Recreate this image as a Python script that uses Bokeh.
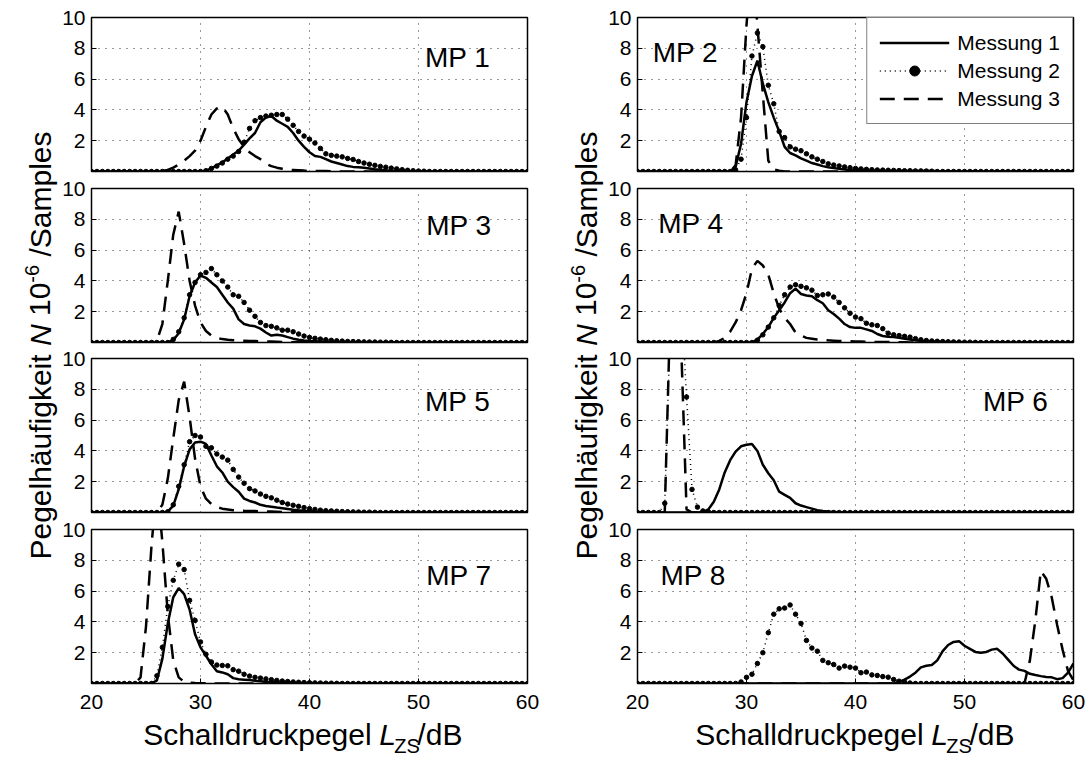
from bokeh.plotting import figure
from bokeh.models import Range1d, FixedTicker, Label, Legend, LegendItem
from bokeh.layouts import row, column
from bokeh.embed import file_html
from bokeh.resources import INLINE

# ---------------- data ----------------
X_MIN, X_MAX, X_STEP = 20.0, 60.0, 0.5
X_TICKS = [20, 30, 40, 50, 60]
Y_TICKS = [2, 4, 6, 8, 10]
SERIES_NAMES = ["Messung 1", "Messung 2", "Messung 3"]
PANEL_NAMES = ["MP 1", "MP 2", "MP 3", "MP 4", "MP 5", "MP 6", "MP 7", "MP 8"]

# each series: first level (dB) of the list, then values every 0.5 dB (10^6 samples)
MP1_M1_START = 30.0
MP1_M1 = [0, 0.05, 0.2, 0.4, 0.6, 0.85, 1.1, 1.35, 1.75, 2.15, 2.5, 3.2, 3.5, 3.6, 3.3, 3.1, 2.9, 2.5,
          2.0, 1.6, 1.25, 1.0, 0.95, 0.8, 0.65, 0.55, 0.45, 0.35, 0.3, 0.28, 0.25, 0.2, 0.15, 0.12,
          0.08, 0.05, 0.03, 0.02, 0]
MP1_M2_START = 30.0
MP1_M2 = [0, 0.05, 0.2, 0.35, 0.55, 0.8, 1.0, 1.3, 1.9, 2.8, 3.3, 3.5, 3.6, 3.65, 3.7, 3.7, 3.4, 3.0,
          2.6, 2.3, 2.1, 1.85, 1.5, 1.15, 1.05, 1.0, 0.95, 0.85, 0.78, 0.65, 0.55, 0.47, 0.4, 0.33,
          0.28, 0.22, 0.17, 0.12, 0.08, 0.05, 0.03, 0.02, 0]
MP1_M3_START = 26.0
MP1_M3 = [0, 0.03, 0.1, 0.25, 0.45, 0.7, 1.0, 1.35, 2.0, 2.9, 3.7, 4.1, 4.2, 3.7, 2.8, 2.1, 1.6, 1.25,
          1.0, 0.8, 0.5, 0.35, 0.25, 0.18, 0.12, 0.1, 0.08, 0.06, 0.05, 0.04, 0.03, 0.03, 0.02, 0]

MP2_M1_START = 28.5
MP2_M1 = [0, 0.3, 1.8, 4.5, 6.2, 7.2, 5.7, 4.5, 3.5, 2.6, 1.6, 1.2, 1.05, 0.85, 0.7, 0.55, 0.45, 0.35,
          0.28, 0.22, 0.17, 0.13, 0.1, 0.09, 0.08, 0.07, 0.06, 0.05, 0.05, 0.04, 0.04, 0.03, 0.03,
          0.03, 0.03, 0.04, 0.05, 0.04, 0.02, 0]
MP2_M2_START = 28.5
MP2_M2 = [0, 0.1, 0.8, 3.5, 7.5, 9.0, 8.1, 5.6, 4.4, 2.6, 2.2, 1.6, 1.45, 1.35, 1.15, 0.95, 0.8, 0.65,
          0.5, 0.42, 0.36, 0.3, 0.25, 0.2, 0.17, 0.14, 0.12, 0.1, 0.09, 0.08, 0.07, 0.06, 0.05, 0.05,
          0.04, 0.04, 0.03, 0.02, 0]
MP2_M3_START = 28.5
MP2_M3 = [0, 0.4, 3.5, 9.5, 14.0, 9.5, 5.0, 0.7, 0.15, 0.05, 0]

MP3_M1_START = 27.0
MP3_M1 = [0, 0.15, 0.6, 1.5, 3.0, 3.9, 4.35, 4.2, 3.9, 3.6, 3.1, 2.6, 2.2, 1.5, 1.2, 1.1, 1.05, 0.9,
          0.65, 0.45, 0.5, 0.45, 0.35, 0.25, 0.18, 0.13, 0.1, 0.08, 0.06, 0.05, 0.04, 0.03, 0.03,
          0.02, 0.02, 0.02, 0.02, 0.01, 0]
MP3_M2_START = 27.0
MP3_M2 = [0, 0.2, 0.7, 1.6, 3.1, 3.9, 4.4, 4.55, 4.8, 4.4, 4.0, 3.6, 3.1, 3.0, 2.6, 2.1, 1.7, 1.3,
          1.1, 1.05, 0.95, 0.8, 0.8, 0.7, 0.55, 0.42, 0.33, 0.27, 0.22, 0.18, 0.14, 0.11, 0.09,
          0.07, 0.06, 0.05, 0.04, 0.03, 0.03, 0.02, 0.02, 0.01, 0]
MP3_M3_START = 25.5
MP3_M3 = [0, 0.1, 1.2, 4.0, 7.0, 8.5, 6.4, 4.0, 2.4, 1.3, 0.75, 0.45, 0.3, 0.22, 0.18, 0.15, 0.13,
          0.12, 0.1, 0.09, 0.08, 0.07, 0.06, 0.05, 0.04, 0.03, 0.02, 0.02, 0.01, 0]

MP4_M1_START = 30.5
MP4_M1 = [0, 0.2, 0.55, 1.0, 1.6, 2.1, 2.6, 3.2, 3.5, 3.15, 3.05, 3.0, 2.75, 2.55, 2.1, 1.85, 1.55,
          1.2, 1.0, 0.95, 0.95, 0.85, 0.75, 0.55, 0.42, 0.38, 0.35, 0.3, 0.25, 0.2, 0.15, 0.1, 0.08,
          0.06, 0.05, 0.04, 0.03, 0.02, 0.02, 0.01, 0]
MP4_M2_START = 30.5
MP4_M2 = [0, 0.15, 0.5, 1.0, 1.6, 2.4, 3.1, 3.6, 3.75, 3.65, 3.55, 3.4, 3.05, 3.1, 3.15, 2.95, 2.6,
          2.25, 1.9, 1.65, 1.55, 1.25, 1.15, 1.1, 0.9, 0.6, 0.5, 0.45, 0.4, 0.35, 0.25, 0.18, 0.13,
          0.1, 0.08, 0.06, 0.05, 0.04, 0.03, 0.02, 0.02, 0.01, 0]
MP4_M3_START = 27.0
MP4_M3 = [0, 0.1, 0.3, 0.7, 1.3, 2.1, 3.2, 4.8, 5.3, 5.0, 4.4, 3.2, 2.2, 1.6, 1.2, 0.65, 0.45, 0.3,
          0.25, 0.2, 0.17, 0.14, 0.12, 0.1, 0.09, 0.08, 0.07, 0.06, 0.05, 0.04, 0.04, 0.03, 0.03,
          0.02, 0.02, 0.01, 0]

MP5_M1_START = 26.5
MP5_M1 = [0, 0.05, 0.45, 1.5, 3.0, 4.1, 4.55, 4.6, 4.45, 3.7, 3.0, 2.6, 2.0, 1.65, 1.35, 0.9, 0.75,
          0.65, 0.5, 0.42, 0.37, 0.32, 0.28, 0.23, 0.18, 0.14, 0.11, 0.09, 0.07, 0.05, 0.04, 0.03,
          0.02, 0.02, 0.01, 0]
MP5_M2_START = 26.5
MP5_M2 = [0, 0.05, 0.5, 1.7, 3.1, 4.6, 5.0, 4.9, 4.3, 4.2, 3.8, 3.6, 3.4, 2.8, 2.3, 1.9, 1.55, 1.4,
          1.2, 1.05, 0.95, 0.8, 0.65, 0.55, 0.47, 0.4, 0.32, 0.25, 0.2, 0.15, 0.12, 0.1, 0.08, 0.06,
          0.05, 0.04, 0.03, 0.02, 0.02, 0.01, 0]
MP5_M3_START = 26.0
MP5_M3 = [0, 0.5, 2.2, 4.8, 7.3, 8.5, 6.2, 3.5, 1.7, 0.9, 0.55, 0.35, 0.25, 0.2, 0.15, 0.13, 0.11,
          0.1, 0.09, 0.08, 0.07, 0.06, 0.05, 0.04, 0.03, 0.03, 0.02, 0.02, 0.01, 0]

MP6_M1_START = 25.5
MP6_M1 = [0, 0.03, 0.2, 0.7, 1.5, 2.6, 3.4, 3.95, 4.3, 4.4, 4.45, 4.0, 3.1, 2.55, 2.1, 1.35, 1.15,
          0.95, 0.6, 0.45, 0.35, 0.25, 0.15, 0.1, 0.06, 0.04, 0.02, 0.01, 0]
MP6_M2_START = 22.0
MP6_M2 = [0, 0.6, 12.0, 18.0, 14.0, 7.5, 1.5, 0.35, 0.1, 0.05, 0]
MP6_M3_START = 22.5
MP6_M3 = [0, 13.0, 18.0, 11.0, 0.2, 0]

MP7_M1_START = 25.5
MP7_M1 = [0, 0.2, 1.6, 3.9, 5.6, 6.2, 5.8, 4.8, 3.2, 2.35, 1.8, 1.25, 0.8, 0.72, 0.6, 0.35, 0.28,
          0.25, 0.22, 0.18, 0.15, 0.12, 0.1, 0.08, 0.07, 0.06, 0.05, 0.04, 0.03, 0.03, 0.02, 0.02,
          0.01, 0]
MP7_M2_START = 25.5
MP7_M2 = [0, 0.5, 2.35, 5.0, 6.7, 7.75, 7.4, 5.4, 4.1, 2.7, 1.9, 1.4, 1.2, 1.17, 1.15, 0.9, 0.8,
          0.6, 0.48, 0.4, 0.35, 0.3, 0.25, 0.2, 0.16, 0.13, 0.1, 0.08, 0.06, 0.05, 0.04, 0.03, 0.02,
          0.02, 0.01, 0]
MP7_M3_START = 24.0
MP7_M3 = [0, 0.4, 3.7, 8.9, 13.0, 9.2, 4.5, 1.5, 0.4, 0.1, 0.05, 0.03, 0.02, 0.01, 0]

MP8_M1_START = 43.5
MP8_M1 = [0, 0.1, 0.25, 0.45, 0.7, 1.05, 1.15, 1.2, 1.5, 2.1, 2.5, 2.7, 2.75, 2.45, 2.25, 2.05, 2.0,
          2.05, 2.2, 2.25, 1.95, 1.55, 1.15, 0.9, 0.82, 0.63, 0.55, 0.48, 0.42, 0.4, 0.28, 0.35,
          0.7, 1.3]
MP8_M2_START = 29.0
MP8_M2 = [0, 0.1, 0.4, 0.6, 1.3, 2.0, 3.3, 4.5, 4.85, 4.9, 5.1, 4.5, 3.9, 2.8, 2.3, 2.1, 1.5, 1.35,
          1.23, 1.0, 1.13, 1.06, 1.0, 0.7, 0.74, 0.56, 0.52, 0.45, 0.41, 0.26, 0.15, 0.1, 0.03, 0]
MP8_M3_START = 55.5
MP8_M3 = [0, 1.5, 4.1, 7.3, 6.8, 5.6, 3.8, 2.2, 0.8, 0.2]

PANELS = [
    [(MP1_M1_START, MP1_M1), (MP1_M2_START, MP1_M2), (MP1_M3_START, MP1_M3)],
    [(MP2_M1_START, MP2_M1), (MP2_M2_START, MP2_M2), (MP2_M3_START, MP2_M3)],
    [(MP3_M1_START, MP3_M1), (MP3_M2_START, MP3_M2), (MP3_M3_START, MP3_M3)],
    [(MP4_M1_START, MP4_M1), (MP4_M2_START, MP4_M2), (MP4_M3_START, MP4_M3)],
    [(MP5_M1_START, MP5_M1), (MP5_M2_START, MP5_M2), (MP5_M3_START, MP5_M3)],
    [(MP6_M1_START, MP6_M1), (MP6_M2_START, MP6_M2), (MP6_M3_START, MP6_M3)],
    [(MP7_M1_START, MP7_M1), (MP7_M2_START, MP7_M2), (MP7_M3_START, MP7_M3)],
    [(MP8_M1_START, MP8_M1), (MP8_M2_START, MP8_M2), (MP8_M3_START, MP8_M3)],
]

# ---------------- layout / style ----------------
FONT = "Liberation Sans"
FW, FH = 436, 154
LAB_W_L, LAB_W_R = 59, 64
BORDER_L = 32
BORDER_R = [14, 13]
ROW_TOP = [17, 14, 13, 14]
ROW_BOTTOM = [3, 3, 3, 34]
XLAB_H = 40
TOTAL_H = sum(ROW_TOP) + sum(ROW_BOTTOM) + 4 * FH + XLAB_H
MID = 0.3465  # centre of the font box above the baseline, in em
# baseline positions (x dB, y value) of the panel names
MP_LABEL_POS = [(50.6, 6.75), (21.4, 7.1), (50.7, 6.95), (21.9, 7.1),
                (50.6, 6.6), (51.7, 6.6), (50.7, 6.4), (22.1, 6.4)]


def full_series(start, vals):
    n = int(round((X_MAX - X_MIN) / X_STEP)) + 1
    xs = [X_MIN + i * X_STEP for i in range(n)]
    ys = [0.0] * n
    i0 = int(round((start - X_MIN) / X_STEP))
    for k, v in enumerate(vals):
        if 0 <= i0 + k < n:
            ys[i0 + k] = v
    return xs, ys


def style_axis(ax, ticks):
    ax.ticker = FixedTicker(ticks=ticks)
    ax.axis_line_color = None
    ax.major_tick_in = 5
    ax.major_tick_out = 0
    ax.major_tick_line_color = "black"
    ax.minor_tick_line_color = None
    ax.major_label_text_font = FONT
    ax.major_label_text_font_size = "21px"
    ax.major_label_text_color = "black"


def blank_fig(width, height):
    p = figure(width=width, height=height, x_range=Range1d(0, width), y_range=Range1d(0, height),
               output_backend="svg", toolbar_location=None,
               x_axis_location=None, y_axis_location=None,
               min_border_left=0, min_border_right=0, min_border_top=0, min_border_bottom=0)
    p.grid.visible = False
    p.outline_line_color = None
    p.background_fill_color = "white"
    p.border_fill_color = "white"
    return p


def x_label_fig(width, l_x):
    # l_x: left edge of the italic "L" (px inside this figure)
    p = blank_fig(width, XLAB_H)
    fs, fsub = 30, 20
    base = XLAB_H - (744 - (TOTAL_H - XLAB_H))      # baseline 744 px from the top of the page
    y_main = base + MID * fs
    y_sub = (base - 8) + MID * fsub
    common = dict(text_font=FONT, text_color="black", text_baseline="middle")
    p.add_layout(Label(x=l_x - 0.278 * fs, y=y_main, text="Schalldruckpegel", text_align="right",
                       text_font_size="30px", **common))
    p.add_layout(Label(x=l_x, y=y_main, text="L", text_font_size="30px", text_font_style="italic",
                       text_align="left", **common))
    xz = l_x + 0.556 * fs
    p.add_layout(Label(x=xz, y=y_sub, text="ZS", text_font_size="20px", text_align="left", **common))
    xd = xz + 1.278 * fsub
    p.add_layout(Label(x=xd, y=y_main, text="/dB", text_font_size="30px", text_align="left", **common))
    return p


def y_label_fig(width, base_x):
    p = blank_fig(width, TOTAL_H)
    fs, fsup = 30, 20
    a = 1.5707963267948966
    y0 = TOTAL_H - 559                      # start of the text, 559 px from the page top
    yN = y0 + (6.837 + 0.278) * fs
    y10 = yN + (0.722 + 0.278) * fs
    y6 = y10 + 1.112 * fs
    yS = y6 + 0.889 * fsup + 0.278 * fs
    xm = base_x - MID * fs
    xs = base_x - 12 - MID * fsup
    common = dict(angle=a, text_font=FONT, text_color="black", text_baseline="middle")
    p.add_layout(Label(x=xm, y=yN - 0.278 * fs, text="Pegelhäufigkeit", text_align="right",
                       text_font_size="30px", **common))
    p.add_layout(Label(x=xm, y=yN, text="N", text_font_size="30px", text_font_style="italic",
                       text_align="left", **common))
    p.add_layout(Label(x=xm, y=y10, text="10", text_font_size="30px", text_align="left", **common))
    p.add_layout(Label(x=xs, y=y6, text="-6", text_font_size="20px", text_align="left", **common))
    p.add_layout(Label(x=xm, y=yS, text="/Samples", text_font_size="30px", text_align="left", **common))
    return p


def make_panel(i):
    col = i % 2
    r = i // 2
    bottom = r == 3
    p = figure(frame_width=FW, frame_height=FH,
               x_range=Range1d(X_MIN, X_MAX), y_range=Range1d(0, 10),
               output_backend="svg", toolbar_location=None,
               x_axis_location="below" if bottom else None, y_axis_location="left",
               min_border_left=BORDER_L, min_border_right=BORDER_R[col],
               min_border_top=ROW_TOP[r], min_border_bottom=ROW_BOTTOM[r])
    p.background_fill_color = "white"
    p.border_fill_color = "white"
    p.outline_line_color = "black"
    p.outline_line_width = 1.5
    p.outline_line_alpha = 1.0
    style_axis(p.yaxis[0], Y_TICKS)
    p.yaxis[0].major_label_standoff = 6
    if bottom:
        style_axis(p.xaxis[0], X_TICKS)
        p.xaxis[0].major_label_standoff = 11
    p.xgrid[0].ticker = FixedTicker(ticks=X_TICKS)
    p.ygrid[0].ticker = FixedTicker(ticks=Y_TICKS)
    for g in (p.xgrid[0], p.ygrid[0]):
        g.grid_line_color = "#333333"
        g.grid_line_dash = "1 6"
        g.grid_line_width = 1
        g.grid_line_alpha = 1.0

    (s1, v1), (s2, v2), (s3, v3) = PANELS[i]
    xs, y1 = full_series(s1, v1)
    _, y2 = full_series(s2, v2)
    _, y3 = full_series(s3, v3)
    r3 = p.line(xs, y3, line_color="black", line_width=2.5, line_dash="15 9")
    r2l = p.line(xs, y2, line_color="black", line_width=1.5, line_dash="1 4")
    r2s = p.scatter(xs, y2, marker="circle", size=4.5, fill_color="black", line_color="black")
    r1 = p.line(xs, y1, line_color="black", line_width=2.5)

    lx, ly = MP_LABEL_POS[i]
    fs = 28
    p.add_layout(Label(x=lx, y=ly + MID * fs * 10.0 / FH, text=PANEL_NAMES[i], text_font=FONT,
                       text_font_size="28px", text_color="black", text_baseline="middle"))

    if i == 1:
        legend = Legend(items=[LegendItem(label=SERIES_NAMES[0], renderers=[r1]),
                               LegendItem(label=SERIES_NAMES[1], renderers=[r2l, r2s]),
                               LegendItem(label=SERIES_NAMES[2], renderers=[r3])],
                        location="top_right", margin=0, padding=12, spacing=3,
                        glyph_width=70, glyph_height=25, label_height=25, label_standoff=8,
                        label_text_font=FONT, label_text_font_size="21px", label_text_color="black",
                        border_line_color="black", border_line_width=1,
                        background_fill_color="white", background_fill_alpha=1.0)
        p.add_layout(legend)
    return p


panels = [make_panel(i) for i in range(8)]
W_COL_L = BORDER_L + FW + BORDER_R[0]
W_COL_R = BORDER_L + FW + BORDER_R[1]
X_RIGHT_COL = LAB_W_L + W_COL_L + LAB_W_R
left_col = column(panels[0], panels[2], panels[4], panels[6],
                  x_label_fig(W_COL_L, 140 + 237 - LAB_W_L))
right_col = column(panels[1], panels[3], panels[5], panels[7],
                   x_label_fig(W_COL_R, 692 + 237 - X_RIGHT_COL))
layout = row(y_label_fig(LAB_W_L, 50), left_col,
             y_label_fig(LAB_W_R, 596 - (LAB_W_L + W_COL_L)), right_col)

open("out.html", "w").write(file_html(layout, INLINE))
